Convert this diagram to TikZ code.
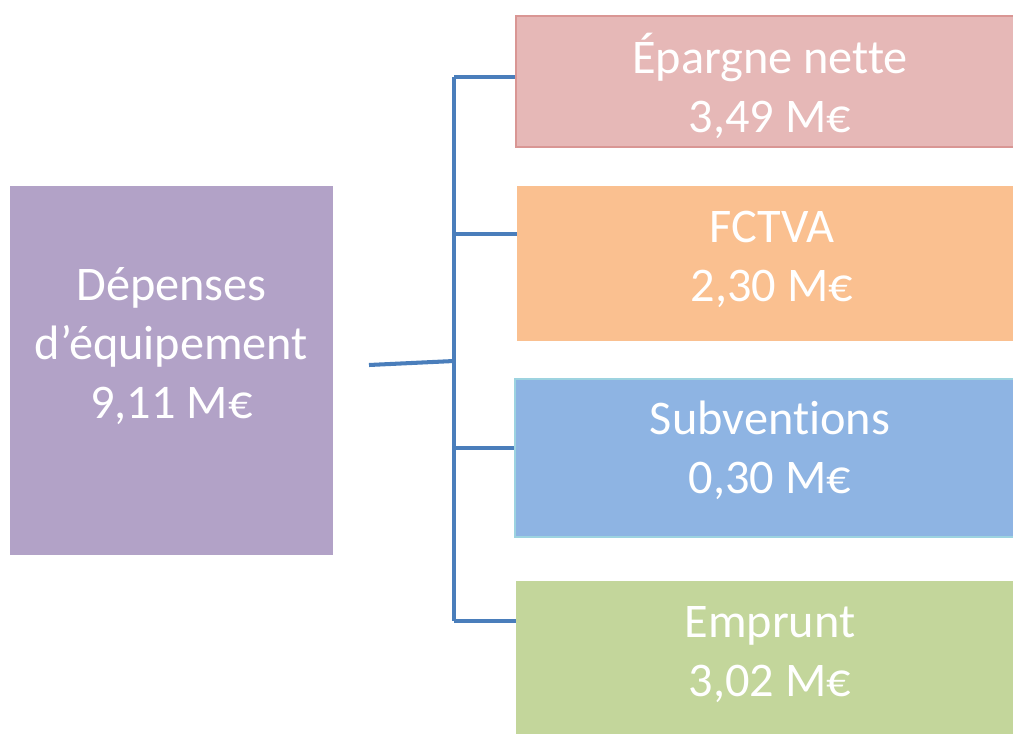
\documentclass[tikz,border=0pt]{standalone}
\usepackage{fontspec}
\setmainfont{Carlito}[Ligatures=NoCommon]
\usetikzlibrary{positioning}

\definecolor{violet-a}{HTML}{B2A2C7}
\definecolor{rose-a}{HTML}{E6B8B7}
\definecolor{rose-b}{HTML}{D99694}
\definecolor{orange-a}{HTML}{FAC090}
\definecolor{bleu-a}{HTML}{8EB4E3}
\definecolor{bleu-b}{HTML}{9DD3E0}
\definecolor{vert-a}{HTML}{C3D69B}
\definecolor{trait-a}{HTML}{4A7EBB}

\begin{document}
\begin{tikzpicture}
[
x=0.02cm, y=-0.02cm,
bloc-a/.style={rectangle, anchor=north west, inner sep=0pt, minimum width=10.24cm},
texte-a/.style={white, align=center, font=\fontsize{27.5}{33.5}\selectfont},
trait/.style={trait-a, line width=2.3pt},
]
\useasboundingbox (0,0) rectangle (1013,733);
% boite de gauche
\node (dep) [bloc-a, fill=violet-a, minimum width=6.46cm, minimum height=7.38cm] at (10,186) {};
\node (tdep) [texte-a] at (171.5,346) {Dépenses\\d’équipement\\9,11 M€};
% boites de droite
\node (epa) [bloc-a, fill=rose-a, draw=rose-b, line width=1pt, minimum height=2.62cm] at (515,15) {};
\node (tepa) [texte-a] at (770,86) {Épargne nette\\3,49 M€};
\node (fct) [bloc-a, fill=orange-a, minimum width=10.2cm, minimum height=3.1cm] at (517,186) {};
\node (tfct) [texte-a] at (772,259) {FCTVA\\2,30 M€};
\node (sub) [bloc-a, fill=bleu-a, draw=bleu-b, line width=1pt, minimum width=10.26cm, minimum height=3.16cm] at (514,378) {};
\node (tsub) [texte-a] at (770,450) {Subventions\\0,30 M€};
\node (emp) [bloc-a, fill=vert-a, minimum width=10.22cm, minimum height=3.08cm] at (516,581) {};
\node (temp) [texte-a] at (770,655) {Emprunt\\3,02 M€};
% accolade
\coordinate (c0) at (369,365);
\coordinate (c1) at (454,361);
\coordinate (b1) at (454,77);
\coordinate (b2) at (454,234);
\coordinate (b3) at (454,448);
\coordinate (b4) at (454,621);
\draw [trait] (c0) -- (c1);
\draw [trait] (b1) -- (b4);
\draw [trait] (b1) -- (b1 -| epa.west);
\draw [trait] (b2) -- (b2 -| fct.west);
\draw [trait] (b3) -- (b3 -| sub.west);
\draw [trait] (b4) -- (b4 -| emp.west);
\end{tikzpicture}
\end{document}
